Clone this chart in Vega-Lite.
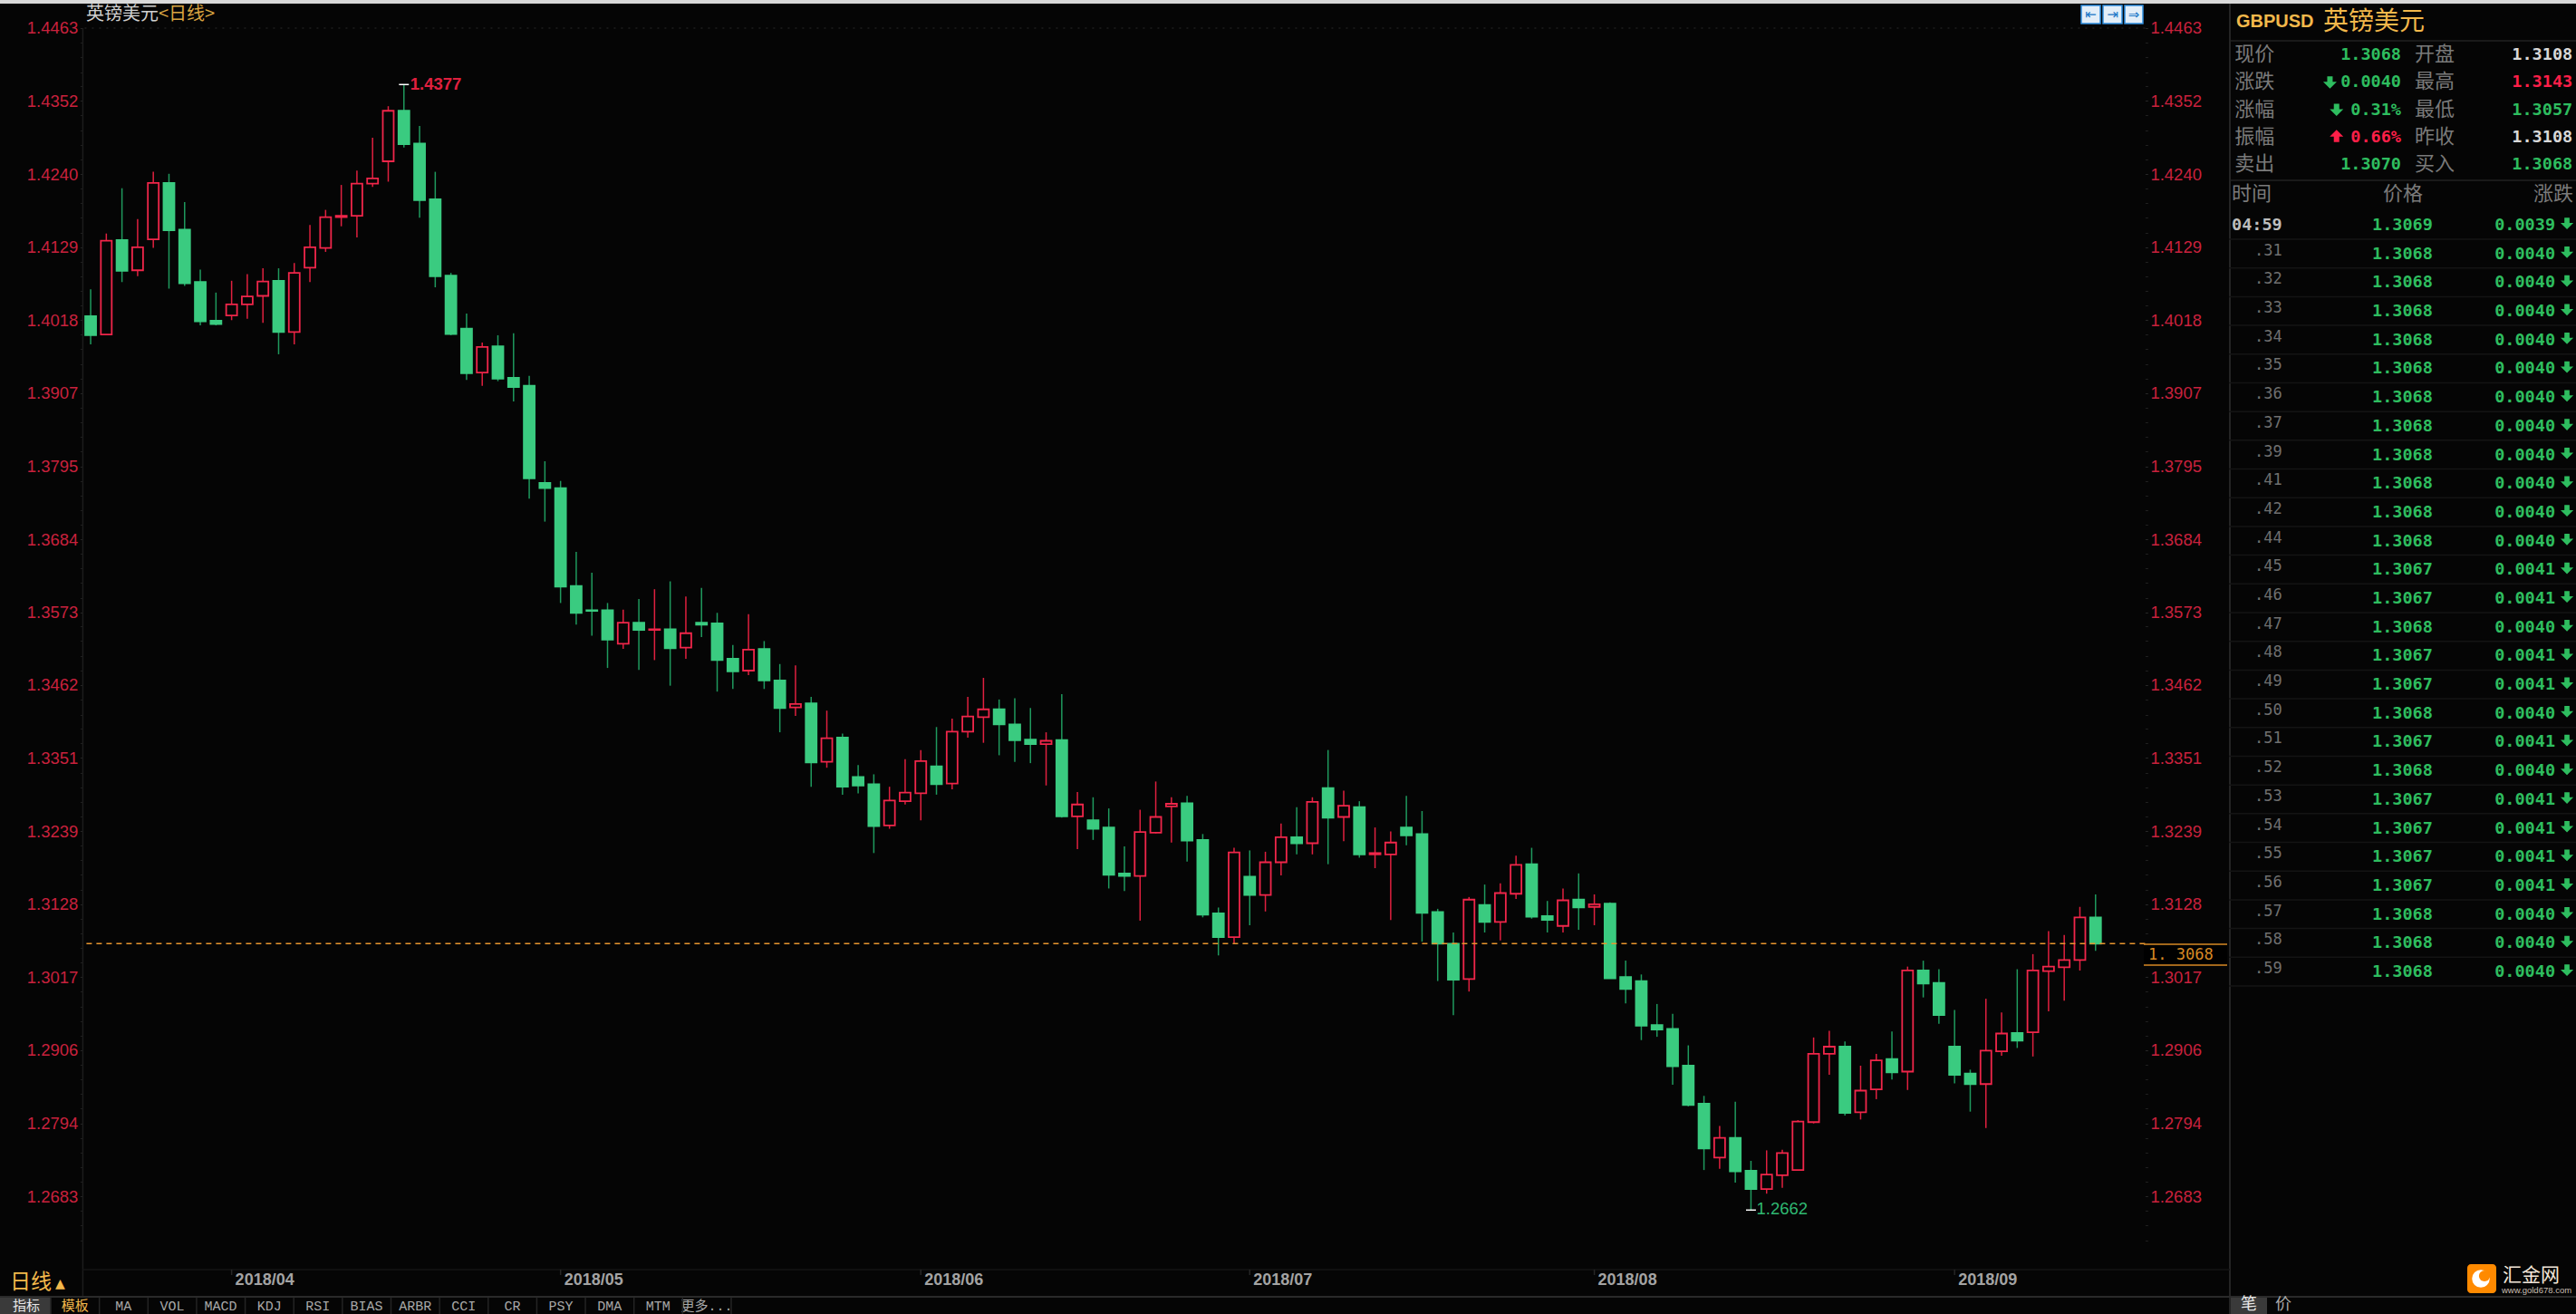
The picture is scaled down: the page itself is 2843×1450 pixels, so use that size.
{"$schema":"https://vega.github.io/schema/vega-lite/v6.json","width":2276,"height":1396,"autosize":{"type":"none"},"padding":{"left":91.4,"top":5,"right":475.6,"bottom":49},"background":"#050505","config":{"view":{"stroke":null},"text":{"font":"Liberation Sans"}},
"data":{"values":[{"frame":"window"}]},
"datasets":{"candles":[
{"d":"2018-03-20","dir":"down","o":1.4024,"h":1.4065,"l":1.3981,"c":1.3995},
{"d":"2018-03-21","dir":"up","o":1.3996,"h":1.4150,"l":1.3995,"c":1.4139},
{"d":"2018-03-22","dir":"down","o":1.4140,"h":1.4219,"l":1.4076,"c":1.4093},
{"d":"2018-03-23","dir":"up","o":1.4094,"h":1.4172,"l":1.4085,"c":1.4129},
{"d":"2018-03-26","dir":"up","o":1.4141,"h":1.4244,"l":1.4128,"c":1.4227},
{"d":"2018-03-27","dir":"down","o":1.4227,"h":1.4241,"l":1.4066,"c":1.4155},
{"d":"2018-03-28","dir":"down","o":1.4156,"h":1.4198,"l":1.4070,"c":1.4074},
{"d":"2018-03-29","dir":"down","o":1.4076,"h":1.4095,"l":1.4010,"c":1.4016},
{"d":"2018-03-30","dir":"down","o":1.4017,"h":1.4060,"l":1.4010,"c":1.4012},
{"d":"2018-04-02","dir":"up","o":1.4025,"h":1.4078,"l":1.4018,"c":1.4042},
{"d":"2018-04-03","dir":"up","o":1.4042,"h":1.4088,"l":1.4020,"c":1.4054},
{"d":"2018-04-04","dir":"up","o":1.4055,"h":1.4097,"l":1.4014,"c":1.4077},
{"d":"2018-04-05","dir":"down","o":1.4078,"h":1.4097,"l":1.3966,"c":1.4000},
{"d":"2018-04-06","dir":"up","o":1.4000,"h":1.4105,"l":1.3981,"c":1.4090},
{"d":"2018-04-09","dir":"up","o":1.4098,"h":1.4163,"l":1.4076,"c":1.4129},
{"d":"2018-04-10","dir":"up","o":1.4128,"h":1.4186,"l":1.4122,"c":1.4175},
{"d":"2018-04-11","dir":"up","o":1.4175,"h":1.4224,"l":1.4161,"c":1.4177},
{"d":"2018-04-12","dir":"up","o":1.4177,"h":1.4246,"l":1.4144,"c":1.4226},
{"d":"2018-04-13","dir":"up","o":1.4226,"h":1.4296,"l":1.4221,"c":1.4234},
{"d":"2018-04-16","dir":"up","o":1.4260,"h":1.4344,"l":1.4229,"c":1.4337},
{"d":"2018-04-17","dir":"down","o":1.4337,"h":1.4377,"l":1.4281,"c":1.4286},
{"d":"2018-04-18","dir":"down","o":1.4287,"h":1.4314,"l":1.4174,"c":1.4201},
{"d":"2018-04-19","dir":"down","o":1.4202,"h":1.4244,"l":1.4068,"c":1.4085},
{"d":"2018-04-20","dir":"down","o":1.4086,"h":1.4090,"l":1.3995,"c":1.3997},
{"d":"2018-04-23","dir":"down","o":1.4005,"h":1.4028,"l":1.3927,"c":1.3937},
{"d":"2018-04-24","dir":"up","o":1.3938,"h":1.3984,"l":1.3918,"c":1.3977},
{"d":"2018-04-25","dir":"down","o":1.3978,"h":1.3995,"l":1.3925,"c":1.3929},
{"d":"2018-04-26","dir":"down","o":1.3930,"h":1.3998,"l":1.3894,"c":1.3916},
{"d":"2018-04-27","dir":"down","o":1.3918,"h":1.3933,"l":1.3746,"c":1.3777},
{"d":"2018-04-30","dir":"down","o":1.3770,"h":1.3803,"l":1.3711,"c":1.3762},
{"d":"2018-05-01","dir":"down","o":1.3762,"h":1.3773,"l":1.3587,"c":1.3612},
{"d":"2018-05-02","dir":"down","o":1.3613,"h":1.3665,"l":1.3554,"c":1.3572},
{"d":"2018-05-03","dir":"down","o":1.3576,"h":1.3633,"l":1.3537,"c":1.3575},
{"d":"2018-05-04","dir":"down","o":1.3576,"h":1.3587,"l":1.3488,"c":1.3531},
{"d":"2018-05-07","dir":"up","o":1.3525,"h":1.3577,"l":1.3517,"c":1.3557},
{"d":"2018-05-08","dir":"down","o":1.3557,"h":1.3593,"l":1.3485,"c":1.3546},
{"d":"2018-05-09","dir":"up","o":1.3546,"h":1.3608,"l":1.3500,"c":1.3547},
{"d":"2018-05-10","dir":"down","o":1.3547,"h":1.3620,"l":1.3461,"c":1.3518},
{"d":"2018-05-11","dir":"up","o":1.3519,"h":1.3597,"l":1.3502,"c":1.3541},
{"d":"2018-05-14","dir":"down","o":1.3557,"h":1.3610,"l":1.3535,"c":1.3554},
{"d":"2018-05-15","dir":"down","o":1.3556,"h":1.3572,"l":1.3452,"c":1.3500},
{"d":"2018-05-16","dir":"down","o":1.3502,"h":1.3523,"l":1.3456,"c":1.3483},
{"d":"2018-05-17","dir":"up","o":1.3484,"h":1.3570,"l":1.3477,"c":1.3516},
{"d":"2018-05-18","dir":"down","o":1.3517,"h":1.3529,"l":1.3456,"c":1.3469},
{"d":"2018-05-21","dir":"down","o":1.3469,"h":1.3494,"l":1.3390,"c":1.3427},
{"d":"2018-05-22","dir":"up","o":1.3428,"h":1.3492,"l":1.3415,"c":1.3433},
{"d":"2018-05-23","dir":"down","o":1.3434,"h":1.3444,"l":1.3307,"c":1.3344},
{"d":"2018-05-24","dir":"up","o":1.3345,"h":1.3423,"l":1.3336,"c":1.3381},
{"d":"2018-05-25","dir":"down","o":1.3382,"h":1.3388,"l":1.3295,"c":1.3307},
{"d":"2018-05-28","dir":"down","o":1.3322,"h":1.3340,"l":1.3297,"c":1.3309},
{"d":"2018-05-29","dir":"down","o":1.3311,"h":1.3326,"l":1.3206,"c":1.3247},
{"d":"2018-05-30","dir":"up","o":1.3248,"h":1.3307,"l":1.3243,"c":1.3286},
{"d":"2018-05-31","dir":"up","o":1.3285,"h":1.3349,"l":1.3280,"c":1.3298},
{"d":"2018-06-01","dir":"up","o":1.3297,"h":1.3363,"l":1.3256,"c":1.3346},
{"d":"2018-06-04","dir":"down","o":1.3338,"h":1.3398,"l":1.3295,"c":1.3311},
{"d":"2018-06-05","dir":"up","o":1.3312,"h":1.3411,"l":1.3303,"c":1.3391},
{"d":"2018-06-06","dir":"up","o":1.3391,"h":1.3444,"l":1.3382,"c":1.3414},
{"d":"2018-06-07","dir":"up","o":1.3413,"h":1.3473,"l":1.3374,"c":1.3425},
{"d":"2018-06-08","dir":"down","o":1.3425,"h":1.3440,"l":1.3355,"c":1.3402},
{"d":"2018-06-11","dir":"down","o":1.3402,"h":1.3442,"l":1.3345,"c":1.3378},
{"d":"2018-06-12","dir":"down","o":1.3379,"h":1.3427,"l":1.3343,"c":1.3372},
{"d":"2018-06-13","dir":"up","o":1.3372,"h":1.3390,"l":1.3309,"c":1.3377},
{"d":"2018-06-14","dir":"down","o":1.3378,"h":1.3448,"l":1.3260,"c":1.3262},
{"d":"2018-06-15","dir":"up","o":1.3262,"h":1.3299,"l":1.3212,"c":1.3280},
{"d":"2018-06-18","dir":"down","o":1.3256,"h":1.3291,"l":1.3226,"c":1.3243},
{"d":"2018-06-19","dir":"down","o":1.3245,"h":1.3274,"l":1.3152,"c":1.3173},
{"d":"2018-06-20","dir":"down","o":1.3175,"h":1.3216,"l":1.3148,"c":1.3171},
{"d":"2018-06-21","dir":"up","o":1.3171,"h":1.3272,"l":1.3103,"c":1.3238},
{"d":"2018-06-22","dir":"up","o":1.3237,"h":1.3315,"l":1.3236,"c":1.3261},
{"d":"2018-06-25","dir":"up","o":1.3277,"h":1.3291,"l":1.3222,"c":1.3281},
{"d":"2018-06-26","dir":"down","o":1.3282,"h":1.3293,"l":1.3193,"c":1.3225},
{"d":"2018-06-27","dir":"down","o":1.3226,"h":1.3235,"l":1.3108,"c":1.3112},
{"d":"2018-06-28","dir":"down","o":1.3114,"h":1.3123,"l":1.3050,"c":1.3078},
{"d":"2018-06-29","dir":"up","o":1.3078,"h":1.3214,"l":1.3068,"c":1.3207},
{"d":"2018-07-02","dir":"down","o":1.3170,"h":1.3210,"l":1.3096,"c":1.3142},
{"d":"2018-07-03","dir":"up","o":1.3142,"h":1.3208,"l":1.3117,"c":1.3192},
{"d":"2018-07-04","dir":"up","o":1.3192,"h":1.3251,"l":1.3172,"c":1.3230},
{"d":"2018-07-05","dir":"down","o":1.3230,"h":1.3276,"l":1.3204,"c":1.3221},
{"d":"2018-07-06","dir":"up","o":1.3221,"h":1.3291,"l":1.3204,"c":1.3284},
{"d":"2018-07-09","dir":"down","o":1.3305,"h":1.3363,"l":1.3189,"c":1.3260},
{"d":"2018-07-10","dir":"up","o":1.3261,"h":1.3301,"l":1.3224,"c":1.3278},
{"d":"2018-07-11","dir":"down","o":1.3276,"h":1.3285,"l":1.3199,"c":1.3204},
{"d":"2018-07-12","dir":"up","o":1.3204,"h":1.3245,"l":1.3183,"c":1.3206},
{"d":"2018-07-13","dir":"up","o":1.3204,"h":1.3239,"l":1.3104,"c":1.3222},
{"d":"2018-07-16","dir":"down","o":1.3245,"h":1.3293,"l":1.3218,"c":1.3233},
{"d":"2018-07-17","dir":"down","o":1.3235,"h":1.3270,"l":1.3071,"c":1.3115},
{"d":"2018-07-18","dir":"down","o":1.3116,"h":1.3121,"l":1.3011,"c":1.3068},
{"d":"2018-07-19","dir":"down","o":1.3068,"h":1.3085,"l":1.2959,"c":1.3013},
{"d":"2018-07-20","dir":"up","o":1.3014,"h":1.3139,"l":1.2995,"c":1.3135},
{"d":"2018-07-23","dir":"down","o":1.3127,"h":1.3158,"l":1.3085,"c":1.3101},
{"d":"2018-07-24","dir":"up","o":1.3101,"h":1.3160,"l":1.3073,"c":1.3145},
{"d":"2018-07-25","dir":"up","o":1.3144,"h":1.3202,"l":1.3136,"c":1.3188},
{"d":"2018-07-26","dir":"down","o":1.3189,"h":1.3214,"l":1.3106,"c":1.3109},
{"d":"2018-07-27","dir":"down","o":1.3110,"h":1.3133,"l":1.3085,"c":1.3104},
{"d":"2018-07-30","dir":"up","o":1.3095,"h":1.3152,"l":1.3085,"c":1.3134},
{"d":"2018-07-31","dir":"down","o":1.3135,"h":1.3175,"l":1.3089,"c":1.3123},
{"d":"2018-08-01","dir":"up","o":1.3124,"h":1.3143,"l":1.3096,"c":1.3128},
{"d":"2018-08-02","dir":"down","o":1.3129,"h":1.3131,"l":1.3015,"c":1.3015},
{"d":"2018-08-03","dir":"down","o":1.3017,"h":1.3042,"l":1.2977,"c":1.2999},
{"d":"2018-08-06","dir":"down","o":1.3011,"h":1.3021,"l":1.2921,"c":1.2943},
{"d":"2018-08-07","dir":"down","o":1.2944,"h":1.2976,"l":1.2926,"c":1.2937},
{"d":"2018-08-08","dir":"down","o":1.2938,"h":1.2961,"l":1.2853,"c":1.2881},
{"d":"2018-08-09","dir":"down","o":1.2882,"h":1.2913,"l":1.2820,"c":1.2822},
{"d":"2018-08-10","dir":"down","o":1.2824,"h":1.2836,"l":1.2723,"c":1.2756},
{"d":"2018-08-13","dir":"up","o":1.2742,"h":1.2790,"l":1.2725,"c":1.2772},
{"d":"2018-08-14","dir":"down","o":1.2772,"h":1.2827,"l":1.2704,"c":1.2721},
{"d":"2018-08-15","dir":"down","o":1.2722,"h":1.2737,"l":1.2662,"c":1.2694},
{"d":"2018-08-16","dir":"up","o":1.2694,"h":1.2753,"l":1.2687,"c":1.2716},
{"d":"2018-08-17","dir":"up","o":1.2715,"h":1.2754,"l":1.2696,"c":1.2749},
{"d":"2018-08-20","dir":"up","o":1.2723,"h":1.2799,"l":1.2722,"c":1.2797},
{"d":"2018-08-21","dir":"up","o":1.2796,"h":1.2925,"l":1.2794,"c":1.2900},
{"d":"2018-08-22","dir":"up","o":1.2900,"h":1.2935,"l":1.2868,"c":1.2911},
{"d":"2018-08-23","dir":"down","o":1.2911,"h":1.2919,"l":1.2806,"c":1.2810},
{"d":"2018-08-24","dir":"up","o":1.2811,"h":1.2882,"l":1.2800,"c":1.2844},
{"d":"2018-08-27","dir":"up","o":1.2846,"h":1.2900,"l":1.2831,"c":1.2890},
{"d":"2018-08-28","dir":"down","o":1.2892,"h":1.2934,"l":1.2861,"c":1.2872},
{"d":"2018-08-29","dir":"up","o":1.2873,"h":1.3033,"l":1.2845,"c":1.3027},
{"d":"2018-08-30","dir":"down","o":1.3027,"h":1.3042,"l":1.2986,"c":1.3007},
{"d":"2018-08-31","dir":"down","o":1.3008,"h":1.3029,"l":1.2946,"c":1.2959},
{"d":"2018-09-03","dir":"down","o":1.2911,"h":1.2967,"l":1.2855,"c":1.2868},
{"d":"2018-09-04","dir":"down","o":1.2870,"h":1.2876,"l":1.2812,"c":1.2854},
{"d":"2018-09-05","dir":"up","o":1.2854,"h":1.2984,"l":1.2787,"c":1.2905},
{"d":"2018-09-06","dir":"up","o":1.2904,"h":1.2963,"l":1.2897,"c":1.2931},
{"d":"2018-09-07","dir":"down","o":1.2932,"h":1.3029,"l":1.2909,"c":1.2920},
{"d":"2018-09-10","dir":"up","o":1.2933,"h":1.3052,"l":1.2896,"c":1.3027},
{"d":"2018-09-11","dir":"up","o":1.3026,"h":1.3087,"l":1.2965,"c":1.3033},
{"d":"2018-09-12","dir":"up","o":1.3032,"h":1.3081,"l":1.2981,"c":1.3043},
{"d":"2018-09-13","dir":"up","o":1.3043,"h":1.3124,"l":1.3027,"c":1.3108},
{"d":"2018-09-14","dir":"down","o":1.3108,"h":1.3143,"l":1.3057,"c":1.3068}
],
"months":[{"d":"2018-04-02","label":"2018/04"},{"d":"2018-05-01","label":"2018/05"},{"d":"2018-06-01","label":"2018/06"},{"d":"2018-07-02","label":"2018/07"},{"d":"2018-08-01","label":"2018/08"},{"d":"2018-09-03","label":"2018/09"}],
"ticks":[
{"row":0,"time":"04:59","price":"1.3069","change":"0.0039"},
{"row":1,"time":".31","price":"1.3068","change":"0.0040"},
{"row":2,"time":".32","price":"1.3068","change":"0.0040"},
{"row":3,"time":".33","price":"1.3068","change":"0.0040"},
{"row":4,"time":".34","price":"1.3068","change":"0.0040"},
{"row":5,"time":".35","price":"1.3068","change":"0.0040"},
{"row":6,"time":".36","price":"1.3068","change":"0.0040"},
{"row":7,"time":".37","price":"1.3068","change":"0.0040"},
{"row":8,"time":".39","price":"1.3068","change":"0.0040"},
{"row":9,"time":".41","price":"1.3068","change":"0.0040"},
{"row":10,"time":".42","price":"1.3068","change":"0.0040"},
{"row":11,"time":".44","price":"1.3068","change":"0.0040"},
{"row":12,"time":".45","price":"1.3067","change":"0.0041"},
{"row":13,"time":".46","price":"1.3067","change":"0.0041"},
{"row":14,"time":".47","price":"1.3068","change":"0.0040"},
{"row":15,"time":".48","price":"1.3067","change":"0.0041"},
{"row":16,"time":".49","price":"1.3067","change":"0.0041"},
{"row":17,"time":".50","price":"1.3068","change":"0.0040"},
{"row":18,"time":".51","price":"1.3067","change":"0.0041"},
{"row":19,"time":".52","price":"1.3068","change":"0.0040"},
{"row":20,"time":".53","price":"1.3067","change":"0.0041"},
{"row":21,"time":".54","price":"1.3067","change":"0.0041"},
{"row":22,"time":".55","price":"1.3067","change":"0.0041"},
{"row":23,"time":".56","price":"1.3067","change":"0.0041"},
{"row":24,"time":".57","price":"1.3068","change":"0.0040"},
{"row":25,"time":".58","price":"1.3068","change":"0.0040"},
{"row":26,"time":".59","price":"1.3068","change":"0.0040"}
],
"quote":[
{"row":0,"l1":"现价","v1":"1.3068","t1":"down","l2":"开盘","v2":"1.3108","t2":"flat"},
{"row":1,"l1":"涨跌","v1":"0.0040","t1":"down","l2":"最高","v2":"1.3143","t2":"up"},
{"row":2,"l1":"涨幅","v1":"0.31%","t1":"down","l2":"最低","v2":"1.3057","t2":"down"},
{"row":3,"l1":"振幅","v1":"0.66%","t1":"up","l2":"昨收","v2":"1.3108","t2":"flat"},
{"row":4,"l1":"卖出","v1":"1.3070","t1":"down","l2":"买入","v2":"1.3068","t2":"down"}
],
"tabs":[{"tab":"指标","kind":"active"},{"tab":"模板","kind":"template"},{"tab":"MA","kind":"plain"},{"tab":"VOL","kind":"plain"},{"tab":"MACD","kind":"plain"},{"tab":"KDJ","kind":"plain"},{"tab":"RSI","kind":"plain"},{"tab":"BIAS","kind":"plain"},{"tab":"ARBR","kind":"plain"},{"tab":"CCI","kind":"plain"},{"tab":"CR","kind":"plain"},{"tab":"PSY","kind":"plain"},{"tab":"DMA","kind":"plain"},{"tab":"MTM","kind":"plain"},{"tab":"更多...","kind":"plain"}]
},
"resolve":{"scale":{"x":"independent","y":"independent","color":"independent"}},
"layer":[
{"mark":{"type":"rect","color":"#d9d9d9"},"encoding":{"x":{"datum":0,"type":"quantitative","scale":{"domain":[0,2843],"range":[-91.4,2751.6]},"axis":null},"x2":{"datum":2843},"y":{"datum":0,"type":"quantitative","scale":{"domain":[0,1450],"range":[-5,1445]},"axis":null},"y2":{"datum":4}}},
{"mark":{"type":"rect","color":"#3a3a3a"},"encoding":{"x":{"datum":0,"type":"quantitative","scale":{"domain":[0,2843],"range":[-91.4,2751.6]},"axis":null},"x2":{"datum":56},"y":{"datum":1432,"type":"quantitative","scale":{"domain":[0,1450],"range":[-5,1445]},"axis":null},"y2":{"datum":1450}}},
{"mark":{"type":"rect","color":"#3a3a3a"},"encoding":{"x":{"datum":2462,"type":"quantitative","scale":{"domain":[0,2843],"range":[-91.4,2751.6]},"axis":null},"x2":{"datum":2502},"y":{"datum":1432,"type":"quantitative","scale":{"domain":[0,1450],"range":[-5,1445]},"axis":null},"y2":{"datum":1450}}},
{"mark":{"type":"rule","color":"#242424","strokeWidth":2},"encoding":{"x":{"datum":2461,"type":"quantitative","scale":{"domain":[0,2843],"range":[-91.4,2751.6]},"axis":null},"y":{"datum":4,"type":"quantitative","scale":{"domain":[0,1450],"range":[-5,1445]},"axis":null},"y2":{"datum":1450}}},
{"mark":{"type":"rule","color":"#1c1c1c","strokeWidth":1.5},"encoding":{"x":{"datum":91.4,"type":"quantitative","scale":{"domain":[0,2843],"range":[-91.4,2751.6]},"axis":null},"y":{"datum":31,"type":"quantitative","scale":{"domain":[0,1450],"range":[-5,1445]},"axis":null},"y2":{"datum":1431}}},
{"mark":{"type":"rule","color":"#151515","strokeWidth":1.5},"encoding":{"x":{"datum":91.4,"type":"quantitative","scale":{"domain":[0,2843],"range":[-91.4,2751.6]},"axis":null},"x2":{"datum":2461},"y":{"datum":1401,"type":"quantitative","scale":{"domain":[0,1450],"range":[-5,1445]},"axis":null}}},
{"mark":{"type":"rule","color":"#2a2a2a","strokeWidth":2},"encoding":{"x":{"datum":0,"type":"quantitative","scale":{"domain":[0,2843],"range":[-91.4,2751.6]},"axis":null},"x2":{"datum":2843},"y":{"datum":1431,"type":"quantitative","scale":{"domain":[0,1450],"range":[-5,1445]},"axis":null}}},
{"mark":{"type":"rule","color":"#222222","strokeWidth":1.5},"encoding":{"x":{"datum":2461,"type":"quantitative","scale":{"domain":[0,2843],"range":[-91.4,2751.6]},"axis":null},"x2":{"datum":2843},"y":{"datum":45,"type":"quantitative","scale":{"domain":[0,1450],"range":[-5,1445]},"axis":null}}},
{"mark":{"type":"rule","color":"#222222","strokeWidth":1.5},"encoding":{"x":{"datum":2461,"type":"quantitative","scale":{"domain":[0,2843],"range":[-91.4,2751.6]},"axis":null},"x2":{"datum":2843},"y":{"datum":199,"type":"quantitative","scale":{"domain":[0,1450],"range":[-5,1445]},"axis":null}}},
{"resolve":{"axis":{"y":"independent"}},"layer":[
{"data":{"name":"candles"},"mark":{"type":"rule","strokeWidth":1.5},"encoding":{
"x":{"field":"d","type":"ordinal","scale":{"type":"band","paddingInner":0,"paddingOuter":0,"range":[0,2230]},"axis":null},
"y":{"field":"l","type":"quantitative","scale":{"domain":[1.25713,1.44989],"nice":false,"zero":false},"axis":{"orient":"left","title":null,"values":[1.4463,1.4352,1.4240,1.4129,1.4018,1.3907,1.3795,1.3684,1.3573,1.3462,1.3351,1.3239,1.3128,1.3017,1.2906,1.2794,1.2683],"format":".4f","labelColor":"#c9213d","labelFont":"Liberation Sans","labelFontSize":18.5,"tickColor":"#262626","tickSize":3,"labelPadding":2.5,"domain":false,"grid":false}},
"y2":{"field":"h"},
"color":{"field":"dir","type":"nominal","scale":{"domain":["up","down"],"range":["#e0203f","#1f9a5e"]},"legend":null}}},
{"data":{"name":"candles"},"mark":{"type":"bar","size":12,"strokeWidth":1.8},"encoding":{
"x":{"field":"d","type":"ordinal","scale":{"type":"band","paddingInner":0,"paddingOuter":0,"range":[0,2230]},"axis":null},
"y":{"field":"o","type":"quantitative","scale":{"domain":[1.25713,1.44989],"nice":false,"zero":false},"axis":{"orient":"right","title":null,"values":[1.4463,1.4352,1.4240,1.4129,1.4018,1.3907,1.3795,1.3684,1.3573,1.3462,1.3351,1.3239,1.3128,1.3017,1.2906,1.2794,1.2683],"format":".4f","labelColor":"#c9213d","labelFont":"Liberation Sans","labelFontSize":18.5,"tickColor":"#262626","tickSize":3,"labelPadding":2.5,"domain":false,"grid":false}},
"y2":{"field":"c"},
"fill":{"field":"dir","type":"nominal","scale":{"domain":["up","down"],"range":["#050505","#3acb80"]},"legend":null},
"stroke":{"field":"dir","type":"nominal","scale":{"domain":["up","down"],"range":["#f0264a","#3acb80"]},"legend":null}}},
{"mark":{"type":"rule","color":"#1e1e1e","strokeWidth":1.5,"strokeDash":[2,6]},"encoding":{"y":{"datum":1.4463,"type":"quantitative","scale":{"domain":[1.25713,1.44989],"nice":false,"zero":false},"axis":{"orient":"left","title":null,"values":[1.4441,1.4419,1.4396,1.4374,1.4330,1.4307,1.4285,1.4263,1.4218,1.4196,1.4174,1.4151,1.4107,1.4085,1.4063,1.4040,1.3996,1.3974,1.3951,1.3929,1.3885,1.3862,1.3840,1.3818,1.3773,1.3751,1.3729,1.3707,1.3662,1.3640,1.3618,1.3595,1.3551,1.3529,1.3506,1.3484,1.3440,1.3417,1.3395,1.3373,1.3328,1.3306,1.3284,1.3262,1.3217,1.3195,1.3173,1.3150,1.3106,1.3084,1.3061,1.3039,1.2995,1.2972,1.2950,1.2928,1.2883,1.2861,1.2839,1.2817,1.2772,1.2750,1.2728,1.2705,1.2661,1.2639,1.2616],"labels":false,"tickColor":"#202020","tickSize":3,"domain":false,"grid":false}}}},
{"mark":{"type":"rule","color":"#e8952e","strokeWidth":1.5,"strokeDash":[6,5]},"encoding":{"y":{"datum":1.3068,"type":"quantitative","scale":{"domain":[1.25713,1.44989],"nice":false,"zero":false},"axis":{"orient":"right","title":null,"values":[1.4441,1.4419,1.4396,1.4374,1.4330,1.4307,1.4285,1.4263,1.4218,1.4196,1.4174,1.4151,1.4107,1.4085,1.4063,1.4040,1.3996,1.3974,1.3951,1.3929,1.3885,1.3862,1.3840,1.3818,1.3773,1.3751,1.3729,1.3707,1.3662,1.3640,1.3618,1.3595,1.3551,1.3529,1.3506,1.3484,1.3440,1.3417,1.3395,1.3373,1.3328,1.3306,1.3284,1.3262,1.3217,1.3195,1.3173,1.3150,1.3106,1.3084,1.3061,1.3039,1.2995,1.2972,1.2950,1.2928,1.2883,1.2861,1.2839,1.2817,1.2772,1.2750,1.2728,1.2705,1.2661,1.2639,1.2616],"labels":false,"tickColor":"#202020","tickSize":3,"domain":false,"grid":false}}}},
{"data":{"values":[{"d":"2018-04-17","p":1.4377},{"d":"2018-08-15","p":1.2662}]},"mark":{"type":"point","shape":"stroke","size":120,"filled":false,"stroke":"#ffffff","strokeWidth":1.5,"opacity":1},"encoding":{"x":{"field":"d","type":"ordinal","scale":{"type":"band","paddingInner":0,"paddingOuter":0,"range":[0,2230]},"axis":null},"y":{"field":"p","type":"quantitative","scale":{"domain":[1.25713,1.44989],"nice":false,"zero":false},"axis":null}}},
{"data":{"values":[{"d":"2018-04-17","p":1.4377,"label":"1.4377"}]},"mark":{"type":"text","align":"left","dx":7,"color":"#e0203f","fontSize":18.5,"font":"Liberation Sans","fontWeight":"bold"},"encoding":{"x":{"field":"d","type":"ordinal","scale":{"type":"band","paddingInner":0,"paddingOuter":0,"range":[0,2230]},"axis":null},"y":{"field":"p","type":"quantitative","scale":{"domain":[1.25713,1.44989],"nice":false,"zero":false},"axis":null},"text":{"field":"label"}}},
{"data":{"values":[{"d":"2018-08-15","p":1.2662,"label":"1.2662"}]},"mark":{"type":"text","align":"left","dx":6,"dy":-1,"color":"#2fb872","fontSize":18.5,"font":"Liberation Sans"},"encoding":{"x":{"field":"d","type":"ordinal","scale":{"type":"band","paddingInner":0,"paddingOuter":0,"range":[0,2230]},"axis":null},"y":{"field":"p","type":"quantitative","scale":{"domain":[1.25713,1.44989],"nice":false,"zero":false},"axis":null},"text":{"field":"label"}}},
{"data":{"name":"months"},"mark":{"type":"rule","color":"#262626","strokeWidth":1.5},"encoding":{"x":{"field":"d","type":"ordinal","scale":{"type":"band","paddingInner":0,"paddingOuter":0,"range":[0,2230]},"axis":null},"y":{"datum":1.25713,"type":"quantitative","scale":{"domain":[1.25713,1.44989],"nice":false,"zero":false},"axis":null},"y2":{"datum":1.2563}}},
{"data":{"name":"months"},"mark":{"type":"text","align":"left","dx":4,"color":"#a3a3a3","fontSize":18,"font":"Liberation Sans","fontWeight":"bold"},"encoding":{"x":{"field":"d","type":"ordinal","scale":{"type":"band","paddingInner":0,"paddingOuter":0,"range":[0,2230]},"axis":null},"y":{"datum":1.2555,"type":"quantitative","scale":{"domain":[1.25713,1.44989],"nice":false,"zero":false},"axis":null},"text":{"field":"label"}}}
]},
{"mark":{"type":"rect","color":"#000000"},"encoding":{"x":{"datum":2366,"type":"quantitative","scale":{"domain":[0,2843],"range":[-91.4,2751.6]},"axis":null},"x2":{"datum":2458},"y":{"datum":1042,"type":"quantitative","scale":{"domain":[0,1450],"range":[-5,1445]},"axis":null},"y2":{"datum":1065}}},
{"mark":{"type":"rule","color":"#d98a24","strokeWidth":1.5},"encoding":{"x":{"datum":2366,"type":"quantitative","scale":{"domain":[0,2843],"range":[-91.4,2751.6]},"axis":null},"x2":{"datum":2458},"y":{"datum":1042,"type":"quantitative","scale":{"domain":[0,1450],"range":[-5,1445]},"axis":null}}},
{"mark":{"type":"rule","color":"#d98a24","strokeWidth":1.5},"encoding":{"x":{"datum":2366,"type":"quantitative","scale":{"domain":[0,2843],"range":[-91.4,2751.6]},"axis":null},"x2":{"datum":2458},"y":{"datum":1065,"type":"quantitative","scale":{"domain":[0,1450],"range":[-5,1445]},"axis":null}}},
{"data":{"values":[{"label":"1. 3068"}]},"mark":{"type":"text","align":"left","color":"#d98a24","fontSize":17,"font":"DejaVu Sans Mono"},"encoding":{"x":{"datum":2371,"type":"quantitative","scale":{"domain":[0,2843],"range":[-91.4,2751.6]},"axis":null},"y":{"datum":1053.5,"type":"quantitative","scale":{"domain":[0,1450],"range":[-5,1445]},"axis":null},"text":{"field":"label"}}},
{"data":{"values":[{"label":"英镑美元"}]},"mark":{"type":"text","align":"left","color":"#d0d0d0","fontSize":20,"font":"Noto Sans CJK SC"},"encoding":{"x":{"datum":95,"type":"quantitative","scale":{"domain":[0,2843],"range":[-91.4,2751.6]},"axis":null},"y":{"datum":16,"type":"quantitative","scale":{"domain":[0,1450],"range":[-5,1445]},"axis":null},"text":{"field":"label"}}},
{"data":{"values":[{"label":"<日线>"}]},"mark":{"type":"text","align":"left","color":"#d9a441","fontSize":20,"font":"Noto Sans CJK SC"},"encoding":{"x":{"datum":175,"type":"quantitative","scale":{"domain":[0,2843],"range":[-91.4,2751.6]},"axis":null},"y":{"datum":16,"type":"quantitative","scale":{"domain":[0,1450],"range":[-5,1445]},"axis":null},"text":{"field":"label"}}},
{"data":{"values":[{"label":"日线"}]},"mark":{"type":"text","align":"left","color":"#f2b84b","fontSize":23,"font":"Noto Sans CJK SC"},"encoding":{"x":{"datum":11,"type":"quantitative","scale":{"domain":[0,2843],"range":[-91.4,2751.6]},"axis":null},"y":{"datum":1415,"type":"quantitative","scale":{"domain":[0,1450],"range":[-5,1445]},"axis":null},"text":{"field":"label"}}},
{"data":{"values":[{"label":"▲"}]},"mark":{"type":"text","align":"left","color":"#f2b84b","fontSize":14,"font":"DejaVu Sans"},"encoding":{"x":{"datum":61,"type":"quantitative","scale":{"domain":[0,2843],"range":[-91.4,2751.6]},"axis":null},"y":{"datum":1417,"type":"quantitative","scale":{"domain":[0,1450],"range":[-5,1445]},"axis":null},"text":{"field":"label"}}},
{"data":{"name":"tabs"},"mark":{"type":"text","fontSize":15,"font":"Liberation Mono, Noto Sans CJK SC"},"encoding":{"x":{"field":"tab","type":"ordinal","sort":null,"scale":{"type":"point","padding":0,"range":[-62.4,688.6]},"axis":null},"y":{"datum":1441,"type":"quantitative","scale":{"domain":[0,1450],"range":[-5,1445]},"axis":null},"text":{"field":"tab"},"color":{"field":"kind","type":"nominal","scale":{"domain":["active","template","plain"],"range":["#e8e8e8","#f2b84b","#a8a8a8"]},"legend":null}}},
{"data":{"name":"tabs"},"mark":{"type":"rule","color":"#242424","strokeWidth":1.5,"xOffset":27},"encoding":{"x":{"field":"tab","type":"ordinal","sort":null,"scale":{"type":"point","padding":0,"range":[-62.4,688.6]},"axis":null},"y":{"datum":1432,"type":"quantitative","scale":{"domain":[0,1450],"range":[-5,1445]},"axis":null},"y2":{"datum":1450}}},
{"data":{"values":[{"label":"笔"}]},"mark":{"type":"text","color":"#e8e8e8","fontSize":18,"font":"Noto Sans CJK SC"},"encoding":{"x":{"datum":2482,"type":"quantitative","scale":{"domain":[0,2843],"range":[-91.4,2751.6]},"axis":null},"y":{"datum":1440,"type":"quantitative","scale":{"domain":[0,1450],"range":[-5,1445]},"axis":null},"text":{"field":"label"}}},
{"data":{"values":[{"label":"价"}]},"mark":{"type":"text","color":"#a8a8a8","fontSize":18,"font":"Noto Sans CJK SC"},"encoding":{"x":{"datum":2520,"type":"quantitative","scale":{"domain":[0,2843],"range":[-91.4,2751.6]},"axis":null},"y":{"datum":1440,"type":"quantitative","scale":{"domain":[0,1450],"range":[-5,1445]},"axis":null},"text":{"field":"label"}}},
{"mark":{"type":"rect","color":"#ff8a00","cornerRadius":4},"encoding":{"x":{"datum":2723,"type":"quantitative","scale":{"domain":[0,2843],"range":[-91.4,2751.6]},"axis":null},"x2":{"datum":2755},"y":{"datum":1395,"type":"quantitative","scale":{"domain":[0,1450],"range":[-5,1445]},"axis":null},"y2":{"datum":1427}}},
{"mark":{"type":"point","shape":"circle","filled":true,"color":"#ffffff","size":380,"opacity":1},"encoding":{"x":{"datum":2738,"type":"quantitative","scale":{"domain":[0,2843],"range":[-91.4,2751.6]},"axis":null},"y":{"datum":1411,"type":"quantitative","scale":{"domain":[0,1450],"range":[-5,1445]},"axis":null}}},
{"mark":{"type":"point","shape":"circle","filled":true,"color":"#ff8a00","size":150,"opacity":1},"encoding":{"x":{"datum":2742,"type":"quantitative","scale":{"domain":[0,2843],"range":[-91.4,2751.6]},"axis":null},"y":{"datum":1408,"type":"quantitative","scale":{"domain":[0,1450],"range":[-5,1445]},"axis":null}}},
{"data":{"values":[{"label":"汇金网"}]},"mark":{"type":"text","align":"left","color":"#f2e6d8","fontSize":21,"font":"Noto Sans CJK SC"},"encoding":{"x":{"datum":2762,"type":"quantitative","scale":{"domain":[0,2843],"range":[-91.4,2751.6]},"axis":null},"y":{"datum":1408,"type":"quantitative","scale":{"domain":[0,1450],"range":[-5,1445]},"axis":null},"text":{"field":"label"}}},
{"data":{"values":[{"label":"www.gold678.com"}]},"mark":{"type":"text","align":"left","color":"#c9bfb3","fontSize":9.5,"font":"Liberation Sans"},"encoding":{"x":{"datum":2761,"type":"quantitative","scale":{"domain":[0,2843],"range":[-91.4,2751.6]},"axis":null},"y":{"datum":1424,"type":"quantitative","scale":{"domain":[0,1450],"range":[-5,1445]},"axis":null},"text":{"field":"label"}}},
{"mark":{"type":"rect","color":"#e3eef8","stroke":"#2f8fe0","strokeWidth":1.5},"encoding":{"x":{"datum":2297,"type":"quantitative","scale":{"domain":[0,2843],"range":[-91.4,2751.6]},"axis":null},"x2":{"datum":2318},"y":{"datum":6,"type":"quantitative","scale":{"domain":[0,1450],"range":[-5,1445]},"axis":null},"y2":{"datum":26}}},
{"mark":{"type":"rect","color":"#e3eef8","stroke":"#2f8fe0","strokeWidth":1.5},"encoding":{"x":{"datum":2321,"type":"quantitative","scale":{"domain":[0,2843],"range":[-91.4,2751.6]},"axis":null},"x2":{"datum":2342},"y":{"datum":6,"type":"quantitative","scale":{"domain":[0,1450],"range":[-5,1445]},"axis":null},"y2":{"datum":26}}},
{"mark":{"type":"rect","color":"#e3eef8","stroke":"#2f8fe0","strokeWidth":1.5},"encoding":{"x":{"datum":2345,"type":"quantitative","scale":{"domain":[0,2843],"range":[-91.4,2751.6]},"axis":null},"x2":{"datum":2365},"y":{"datum":6,"type":"quantitative","scale":{"domain":[0,1450],"range":[-5,1445]},"axis":null},"y2":{"datum":26}}},
{"data":{"values":[{"label":"⇤"}]},"mark":{"type":"text","color":"#1f78c8","fontSize":15,"font":"DejaVu Sans"},"encoding":{"x":{"datum":2307.5,"type":"quantitative","scale":{"domain":[0,2843],"range":[-91.4,2751.6]},"axis":null},"y":{"datum":16,"type":"quantitative","scale":{"domain":[0,1450],"range":[-5,1445]},"axis":null},"text":{"field":"label"}}},
{"data":{"values":[{"label":"⇥"}]},"mark":{"type":"text","color":"#1f78c8","fontSize":15,"font":"DejaVu Sans"},"encoding":{"x":{"datum":2331.5,"type":"quantitative","scale":{"domain":[0,2843],"range":[-91.4,2751.6]},"axis":null},"y":{"datum":16,"type":"quantitative","scale":{"domain":[0,1450],"range":[-5,1445]},"axis":null},"text":{"field":"label"}}},
{"data":{"values":[{"label":"⇒"}]},"mark":{"type":"text","color":"#1f78c8","fontSize":15,"font":"DejaVu Sans"},"encoding":{"x":{"datum":2355,"type":"quantitative","scale":{"domain":[0,2843],"range":[-91.4,2751.6]},"axis":null},"y":{"datum":16,"type":"quantitative","scale":{"domain":[0,1450],"range":[-5,1445]},"axis":null},"text":{"field":"label"}}},
{"data":{"values":[{"label":"GBPUSD"}]},"mark":{"type":"text","align":"left","color":"#f2b84b","fontSize":20,"font":"Liberation Sans","fontWeight":"bold"},"encoding":{"x":{"datum":2468,"type":"quantitative","scale":{"domain":[0,2843],"range":[-91.4,2751.6]},"axis":null},"y":{"datum":24,"type":"quantitative","scale":{"domain":[0,1450],"range":[-5,1445]},"axis":null},"text":{"field":"label"}}},
{"data":{"values":[{"label":"英镑美元"}]},"mark":{"type":"text","align":"left","color":"#f2b84b","fontSize":28,"font":"Noto Sans CJK SC"},"encoding":{"x":{"datum":2564,"type":"quantitative","scale":{"domain":[0,2843],"range":[-91.4,2751.6]},"axis":null},"y":{"datum":25,"type":"quantitative","scale":{"domain":[0,1450],"range":[-5,1445]},"axis":null},"text":{"field":"label"}}},
{"data":{"values":[{"label":"时间"}]},"mark":{"type":"text","align":"left","color":"#7a7a7a","fontSize":22,"font":"Noto Sans CJK SC"},"encoding":{"x":{"datum":2463,"type":"quantitative","scale":{"domain":[0,2843],"range":[-91.4,2751.6]},"axis":null},"y":{"datum":214,"type":"quantitative","scale":{"domain":[0,1450],"range":[-5,1445]},"axis":null},"text":{"field":"label"}}},
{"data":{"values":[{"label":"价格"}]},"mark":{"type":"text","align":"center","color":"#7a7a7a","fontSize":22,"font":"Noto Sans CJK SC"},"encoding":{"x":{"datum":2652,"type":"quantitative","scale":{"domain":[0,2843],"range":[-91.4,2751.6]},"axis":null},"y":{"datum":214,"type":"quantitative","scale":{"domain":[0,1450],"range":[-5,1445]},"axis":null},"text":{"field":"label"}}},
{"data":{"values":[{"label":"涨跌"}]},"mark":{"type":"text","align":"right","color":"#7a7a7a","fontSize":22,"font":"Noto Sans CJK SC"},"encoding":{"x":{"datum":2840,"type":"quantitative","scale":{"domain":[0,2843],"range":[-91.4,2751.6]},"axis":null},"y":{"datum":214,"type":"quantitative","scale":{"domain":[0,1450],"range":[-5,1445]},"axis":null},"text":{"field":"label"}}},
{"data":{"name":"quote"},"resolve":{"scale":{"color":"independent"}},"layer":[
{"mark":{"type":"text","align":"left","color":"#7a7a7a","fontSize":22,"font":"Noto Sans CJK SC"},"encoding":{"x":{"datum":0.016,"type":"quantitative","scale":{"domain":[0,1],"range":[2368.6,2751.6]},"axis":null},"y":{"field":"row","type":"quantitative","scale":{"domain":[0,4],"range":[55,176]},"axis":null},"text":{"field":"l1"}}},
{"mark":{"type":"text","align":"left","color":"#7a7a7a","fontSize":22,"font":"Noto Sans CJK SC"},"encoding":{"x":{"datum":0.535,"type":"quantitative","scale":{"domain":[0,1],"range":[2368.6,2751.6]},"axis":null},"y":{"field":"row","type":"quantitative","scale":{"domain":[0,4],"range":[55,176]},"axis":null},"text":{"field":"l2"}}},
{"mark":{"type":"text","align":"right","fontSize":18.5,"font":"DejaVu Sans Mono","fontWeight":"bold"},"encoding":{"x":{"datum":0.496,"type":"quantitative","scale":{"domain":[0,1],"range":[2368.6,2751.6]},"axis":null},"y":{"field":"row","type":"quantitative","scale":{"domain":[0,4],"range":[55,176]},"axis":null},"text":{"field":"v1"},"color":{"field":"t1","type":"nominal","scale":{"domain":["up","down","flat"],"range":["#ff1f48","#2ebd5f","#d8d8d8"]},"legend":null}}},
{"mark":{"type":"text","align":"right","fontSize":18.5,"font":"DejaVu Sans Mono","fontWeight":"bold"},"encoding":{"x":{"datum":0.99,"type":"quantitative","scale":{"domain":[0,1],"range":[2368.6,2751.6]},"axis":null},"y":{"field":"row","type":"quantitative","scale":{"domain":[0,4],"range":[55,176]},"axis":null},"text":{"field":"v2"},"color":{"field":"t2","type":"nominal","scale":{"domain":["up","down","flat"],"range":["#ff1f48","#2ebd5f","#d8d8d8"]},"legend":null}}},
{"transform":[{"filter":"datum.row===1"}],"mark":{"type":"point","shape":"M0,1 L-1,0 L-0.4,0 L-0.4,-0.8 L0.4,-0.8 L0.4,0 L1,0 Z","filled":true,"color":"#2ebd5f","size":225,"opacity":1},"encoding":{"x":{"datum":0.291,"type":"quantitative","scale":{"domain":[0,1],"range":[2368.6,2751.6]},"axis":null},"y":{"field":"row","type":"quantitative","scale":{"domain":[0,4],"range":[55,176]},"axis":null}}},
{"transform":[{"filter":"datum.row===2"}],"mark":{"type":"point","shape":"M0,1 L-1,0 L-0.4,0 L-0.4,-0.8 L0.4,-0.8 L0.4,0 L1,0 Z","filled":true,"color":"#2ebd5f","size":225,"opacity":1},"encoding":{"x":{"datum":0.31,"type":"quantitative","scale":{"domain":[0,1],"range":[2368.6,2751.6]},"axis":null},"y":{"field":"row","type":"quantitative","scale":{"domain":[0,4],"range":[55,176]},"axis":null}}},
{"transform":[{"filter":"datum.row===3"}],"mark":{"type":"point","shape":"M0,-1 L-1,0 L-0.4,0 L-0.4,0.8 L0.4,0.8 L0.4,0 L1,0 Z","filled":true,"color":"#ff1f48","size":225,"opacity":1},"encoding":{"x":{"datum":0.31,"type":"quantitative","scale":{"domain":[0,1],"range":[2368.6,2751.6]},"axis":null},"y":{"field":"row","type":"quantitative","scale":{"domain":[0,4],"range":[55,176]},"axis":null}}}
]},
{"data":{"name":"ticks"},"layer":[
{"mark":{"type":"rule","color":"#141414","strokeWidth":1.5,"yOffset":16},"encoding":{"x":{"datum":0,"type":"quantitative","scale":{"domain":[0,1],"range":[2368.6,2751.6]},"axis":null},"x2":{"datum":1},"y":{"field":"row","type":"quantitative","scale":{"domain":[0,26],"range":[243,1067]},"axis":null}}},
{"transform":[{"filter":"datum.row===0"}],"mark":{"type":"text","align":"left","color":"#bdbdbd","fontSize":18.5,"font":"DejaVu Sans Mono","fontWeight":"bold"},"encoding":{"x":{"datum":0.008,"type":"quantitative","scale":{"domain":[0,1],"range":[2368.6,2751.6]},"axis":null},"y":{"field":"row","type":"quantitative","scale":{"domain":[0,26],"range":[243,1067]},"axis":null},"text":{"field":"time"}}},
{"transform":[{"filter":"datum.row>0"}],"mark":{"type":"text","align":"left","color":"#6f6f6f","fontSize":17,"font":"DejaVu Sans Mono","dy":-3},"encoding":{"x":{"datum":0.073,"type":"quantitative","scale":{"domain":[0,1],"range":[2368.6,2751.6]},"axis":null},"y":{"field":"row","type":"quantitative","scale":{"domain":[0,26],"range":[243,1067]},"axis":null},"text":{"field":"time"}}},
{"mark":{"type":"text","align":"right","color":"#2ebd5f","fontSize":18.5,"font":"DejaVu Sans Mono","fontWeight":"bold"},"encoding":{"x":{"datum":0.587,"type":"quantitative","scale":{"domain":[0,1],"range":[2368.6,2751.6]},"axis":null},"y":{"field":"row","type":"quantitative","scale":{"domain":[0,26],"range":[243,1067]},"axis":null},"text":{"field":"price"}}},
{"mark":{"type":"text","align":"right","color":"#2ebd5f","fontSize":18.5,"font":"DejaVu Sans Mono","fontWeight":"bold"},"encoding":{"x":{"datum":0.94,"type":"quantitative","scale":{"domain":[0,1],"range":[2368.6,2751.6]},"axis":null},"y":{"field":"row","type":"quantitative","scale":{"domain":[0,26],"range":[243,1067]},"axis":null},"text":{"field":"change"}}},
{"mark":{"type":"point","shape":"M0,1 L-1,0 L-0.4,0 L-0.4,-0.8 L0.4,-0.8 L0.4,0 L1,0 Z","filled":true,"color":"#2ebd5f","size":200,"opacity":1,"yOffset":-2},"encoding":{"x":{"datum":0.974,"type":"quantitative","scale":{"domain":[0,1],"range":[2368.6,2751.6]},"axis":null},"y":{"field":"row","type":"quantitative","scale":{"domain":[0,26],"range":[243,1067]},"axis":null}}}
]}
]}
